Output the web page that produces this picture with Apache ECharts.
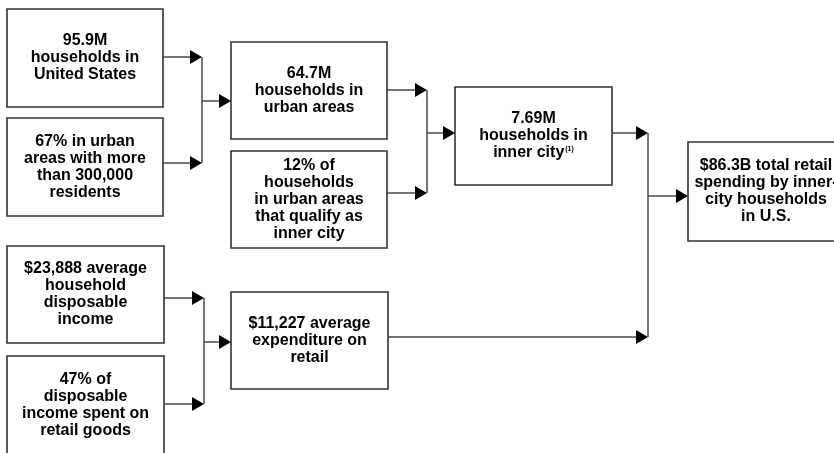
<!DOCTYPE html>
<html><head><meta charset="utf-8">
<script src="https://cdn.jsdelivr.net/npm/echarts@6/dist/echarts.min.js"></script>
<style>html,body{margin:0;padding:0;background:#fff}#c{width:834px;height:453px}</style>
</head><body><div id="c"></div>
<script>
// ---- content ----
const boxLabels = [
  "95.9M\nhouseholds in\nUnited States",
  "67% in urban\nareas with more\nthan 300,000\nresidents",
  "64.7M\nhouseholds in\nurban areas",
  "12% of\nhouseholds\nin urban areas\nthat qualify as\ninner city",
  "7.69M\nhouseholds in\ninner city",
  "$86.3B total retail\nspending by inner-\ncity households\nin U.S.",
  "$23,888 average\nhousehold\ndisposable\nincome",
  "47% of\ndisposable\nincome spent on\nretail goods",
  "$11,227 average\nexpenditure on\nretail"
];
const footnoteMarks = ["", "", "", "", "(1)", "", "", "", ""];
// flow: two inputs combine into one result
const flowFrom = [[0, 1], [2, 3], [4, 8], [6, 7]];
const flowTo = [2, 4, 5, 8];

// ---- layout (page pixels) ----
const boxLayout = [
  [7, 9, 163, 107],
  [7, 118, 163, 216],
  [231, 42, 387, 139],
  [231, 151, 387, 248],
  [455, 87, 612, 185],
  [688, 142, 844, 241],
  [7, 246, 164, 343],
  [7, 356, 164, 455],
  [231, 292, 388, 389]
];
const mergeLayout = [
  { inY: [57, 163], jx: 202, outY: 101 },
  { inY: [90, 193], jx: 427, outY: 133 },
  { inY: [133, 337], jx: 648, outY: 196 },
  { inY: [298, 404], jx: 204, outY: 342 }
];
const FONT = '"Liberation Sans", Arial, Helvetica, sans-serif';
const LINE = '#4a4a4a', BORDER = '#333333', HEAD = '#000000';
const HEAD_LEN = 12, HEAD_HALF = 7;

const chart = echarts.init(document.getElementById('c'), null, { renderer: 'canvas' });

function boxItem(params, api) {
  const i = api.value(0);
  const b = boxLayout[i];
  const p0 = api.coord([b[0], b[1]]), p1 = api.coord([b[2], b[3]]);
  const x = Math.min(p0[0], p1[0]), y = Math.min(p0[1], p1[1]);
  const w = Math.abs(p1[0] - p0[0]), h = Math.abs(p1[1] - p0[1]);
  const mark = footnoteMarks[i];
  const txt = mark ? boxLabels[i] + '{sup|' + mark + '}' : boxLabels[i];
  return {
    type: 'group',
    children: [
      { type: 'rect', shape: { x: x, y: y, width: w, height: h },
        style: { fill: '#fff', stroke: BORDER, lineWidth: 1.6 } },
      { type: 'text', x: x + w / 2, y: y + h / 2,
        style: {
          text: txt, fill: '#000', fontFamily: FONT, fontWeight: 'bold', fontSize: 16,
          lineHeight: 17, align: 'center', verticalAlign: 'middle',
          rich: { sup: { fontSize: 7, fontWeight: 'bold', fontFamily: FONT, fill: '#000', verticalAlign: 'top', lineHeight: 17, padding: [1, 0, 0, 1] } }
        } }
    ]
  };
}

function arrow(children, x1, x2, y, api) {
  const a = api.coord([x1, y]), t = api.coord([x2, y]);
  children.push({ type: 'line', shape: { x1: a[0], y1: a[1], x2: t[0] - HEAD_LEN + 1, y2: t[1] },
    style: { stroke: LINE, lineWidth: 1.5 } });
  children.push({ type: 'polygon', shape: { points: [[t[0] - HEAD_LEN, t[1] - HEAD_HALF], [t[0], t[1]], [t[0] - HEAD_LEN, t[1] + HEAD_HALF]] },
    style: { fill: HEAD } });
}

function flowItem(params, api) {
  const k = api.value(0);
  const m = mergeLayout[k];
  const children = [];
  flowFrom[k].forEach(function (src, j) {
    arrow(children, boxLayout[src][2], m.jx, m.inY[j], api);
  });
  const v0 = api.coord([m.jx, m.inY[0]]), v1 = api.coord([m.jx, m.inY[1]]);
  children.push({ type: 'line', shape: { x1: v0[0], y1: v0[1], x2: v1[0], y2: v1[1] },
    style: { stroke: LINE, lineWidth: 1.5 } });
  arrow(children, m.jx, boxLayout[flowTo[k]][0], m.outY, api);
  return { type: 'group', children: children };
}

chart.setOption({
  animation: false,
  backgroundColor: '#fff',
  grid: { left: 0, right: 0, top: 0, bottom: 0 },
  xAxis: { type: 'value', min: 0, max: 834, show: false },
  yAxis: { type: 'value', min: 0, max: 453, inverse: true, show: false },
  series: [
    { type: 'custom', renderItem: flowItem, data: flowTo.map(function (_, k) { return [k]; }), silent: true, z: 1 },
    { type: 'custom', renderItem: boxItem, data: boxLabels.map(function (_, i) { return [i]; }), silent: true, z: 2 }
  ]
});
</script>
</body></html>
